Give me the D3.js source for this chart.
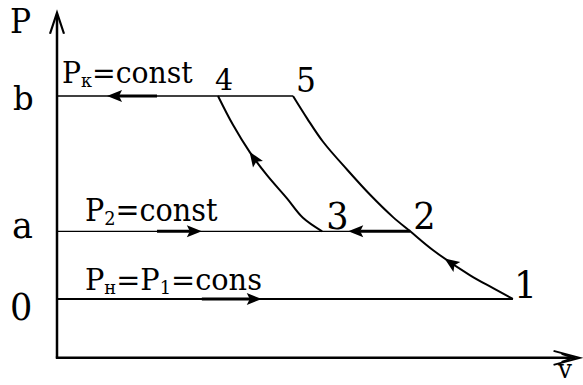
<!DOCTYPE html>
<html><head><meta charset="utf-8">
<script src="https://cdn.jsdelivr.net/npm/d3@7"></script>
<style>html,body{margin:0;padding:0;background:#fff}svg{display:block}</style>
</head><body>
<script>
// ---- data ----
const levelLabels = ["0", "a", "b"];
const levelP = [0, 1, 3];
const levelEndV = [8.75, 6.78, 4.53];           // isobars end at points 1, 2, 5
const pointLabels = ["1", "2", "3", "4", "5"];
const pointV = [8.75, 6.78, 5.09, 3.09, 4.53];
const pointP = [0, 1, 1, 3, 3];
// compression curve 1 -> 2 -> 5
const curveAV = [8.75, 8.37, 7.93, 7.22, 6.78, 6.45, 6.01, 5.57, 5.11, 4.80, 4.53];
const curveAP = [0, 0.16, 0.35, 0.72, 1.0, 1.21, 1.54, 1.91, 2.32, 2.67, 3.0];
// compression curve 3 -> 4
const curveBV = [5.09, 4.72, 4.41, 4.03, 3.70, 3.38, 3.09];
const curveBP = [1.0, 1.20, 1.49, 1.83, 2.17, 2.57, 3.0];
// flow arrows on isobars: from v, to v (tip), level P
const arrowFromV = [1.92, 1.92, 6.78, 2.78];
const arrowToV = [0.96, 2.78, 5.59, 3.93];
const arrowP = [3, 1, 1, 0];
// arrow tips on curves
const curveArrowV = [7.47, 3.72];
const curveArrowP = [0.64, 2.19];
// process labels as pieces
const procText = [
  [["P",""],["к","sub"],["=const",""]],
  [["P",""],["2","sub"],["=const",""]],
  [["P",""],["н","sub"],["=P",""],["1","sub"],["=cons",""]]
];
const procP = [3, 1, 0];
const axisLabels = ["P", "v"];
const vMax = 10.03, pMin = -0.87, pMax = 4.23;

// ---- layout ----
const W = 583, H = 385;
const x = d3.scaleLinear().domain([0, 10]).range([57, 578]);
const y = d3.scaleLinear().domain([0, 3]).range([299, 96]);
const SX = 0.95;
const FONT = '"DejaVu Serif","Liberation Serif",serif';

const svg = d3.select("body").append("svg").attr("width", W).attr("height", H);

function text(str, px, py, size) {
  return svg.append("text")
    .attr("transform", `translate(${px},${py}) scale(${SX},1)`)
    .style("font-family", FONT)
    .attr("font-size", size).attr("fill", "#000")
    .text(str);
}

// axes
svg.append("line").attr("x1", x(0)).attr("x2", x(0)).attr("y1", y(pMin)).attr("y2", y(pMax) + 2)
  .attr("stroke", "#000").attr("stroke-width", 2.5);
svg.append("line").attr("x1", x(0) - 1.2).attr("x2", x(vMax) - 4).attr("y1", y(pMin)).attr("y2", y(pMin))
  .attr("stroke", "#000").attr("stroke-width", 2.5);
{
  const tx = x(0), ty = y(pMax);
  svg.append("path").attr("d", `M${tx - 7},${ty + 21}L${tx},${ty}L${tx + 7},${ty + 21}`)
    .attr("fill", "none").attr("stroke", "#000").attr("stroke-width", 2.2);
  const ax = x(vMax), ay = y(pMin);
  svg.append("path").attr("d", `M${ax - 26},${ay - 7}L${ax},${ay}L${ax - 26},${ay + 7}`)
    .attr("fill", "none").attr("stroke", "#000").attr("stroke-width", 2);
  svg.append("path").attr("d", `M${ax - 18},${ay - 4}L${ax - 6},${ay}L${ax - 18},${ay + 4}`)
    .attr("fill", "none").attr("stroke", "#000").attr("stroke-width", 1.6);
}

// isobars
levelP.forEach((p, i) => {
  svg.append("line").attr("x1", x(0)).attr("x2", x(levelEndV[i])).attr("y1", y(p)).attr("y2", y(p))
    .attr("stroke", "#000").attr("stroke-width", i === 0 ? 1.8 : 1.4);
});

// curves
const line = d3.line().x(d => x(d[0])).y(d => y(d[1])).curve(d3.curveCatmullRom.alpha(0.5));
const curves = [d3.zip(curveAV, curveAP), d3.zip(curveBV, curveBP)];
const curvePaths = curves.map(c => svg.append("path").attr("d", line(c))
  .attr("fill", "none").attr("stroke", "#000").attr("stroke-width", 2));

function head(tx, ty, dx, dy, len, hw) {
  const bx = tx - dx * len, by = ty - dy * len;
  const nx = -dy, ny = dx;
  svg.append("path")
    .attr("d", `M${tx},${ty}L${bx + nx * hw},${by + ny * hw}L${bx + dx * 3},${by + dy * 3}L${bx - nx * hw},${by - ny * hw}Z`)
    .attr("fill", "#000");
}

arrowP.forEach((p, i) => {
  const x0 = x(arrowFromV[i]), x1 = x(arrowToV[i]), yy = y(p);
  const dir = Math.sign(x1 - x0);
  svg.append("line").attr("x1", x0).attr("x2", x1 - dir * 12).attr("y1", yy).attr("y2", yy)
    .attr("stroke", "#000").attr("stroke-width", 3);
  head(x1, yy, dir, 0, 15, 6);
});

curvePaths.forEach((path, i) => {
  const node = path.node();
  const L = node.getTotalLength();
  const tx = x(curveArrowV[i]), ty = y(curveArrowP[i]);
  let best = 0, bd = Infinity;
  for (let l = 0; l <= L; l += 0.5) {
    const pt = node.getPointAtLength(l);
    const d = (pt.x - tx) ** 2 + (pt.y - ty) ** 2;
    if (d < bd) { bd = d; best = l; }
  }
  const a = node.getPointAtLength(Math.max(0, best - 4)), b = node.getPointAtLength(Math.min(L, best + 4));
  const dx = b.x - a.x, dy = b.y - a.y, n = Math.hypot(dx, dy);
  const tip = node.getPointAtLength(best);
  head(tip.x, tip.y, dx / n, dy / n, 15, 6);
});

const levelLabelSize = [37, 37, 34];
const levelLabelX = [10, 12, 13];
const levelLabelDy = [21, 7, 14];
levelLabels.forEach((t, i) => text(t, levelLabelX[i], y(levelP[i]) + levelLabelDy[i], levelLabelSize[i]));

const pointDx = [1, 3, 4, -3, 3];
const pointDy = [-1, -2, -2, -6, -4];
const pointSize = [38, 37, 37, 30, 33];
pointLabels.forEach((t, i) => text(t, x(pointV[i]) + pointDx[i], y(pointP[i]) + pointDy[i], pointSize[i]));

// process labels, squeezed horizontally to their span in the reference
const procX = [62, 85, 85];
const procW = [131, 133, 177];
const procDy = [-13, -10, -9];
const procSize = [29, 31, 29];
procText.forEach((parts, i) => {
  const g = svg.append("g");
  const t = g.append("text")
    .style("font-family", FONT)
    .attr("font-size", procSize[i]).attr("fill", "#000");
  let prevSub = false;
  parts.forEach(([s, kind]) => {
    const sub = kind === "sub";
    const ts = t.append("tspan").text(s);
    if (sub) ts.attr("font-size", procSize[i] * 0.62).attr("dy", 4);
    else if (prevSub) ts.attr("dy", -4);
    prevSub = sub;
  });
  const bw = t.node().getBBox().width;
  g.attr("transform", `translate(${procX[i]},${y(procP[i]) + procDy[i]}) scale(${procW[i] / bw},1)`);
});

text(axisLabels[0], 10, 33, 33);
text(axisLabels[1], 558, 378, 26);
</script>
</body></html>
